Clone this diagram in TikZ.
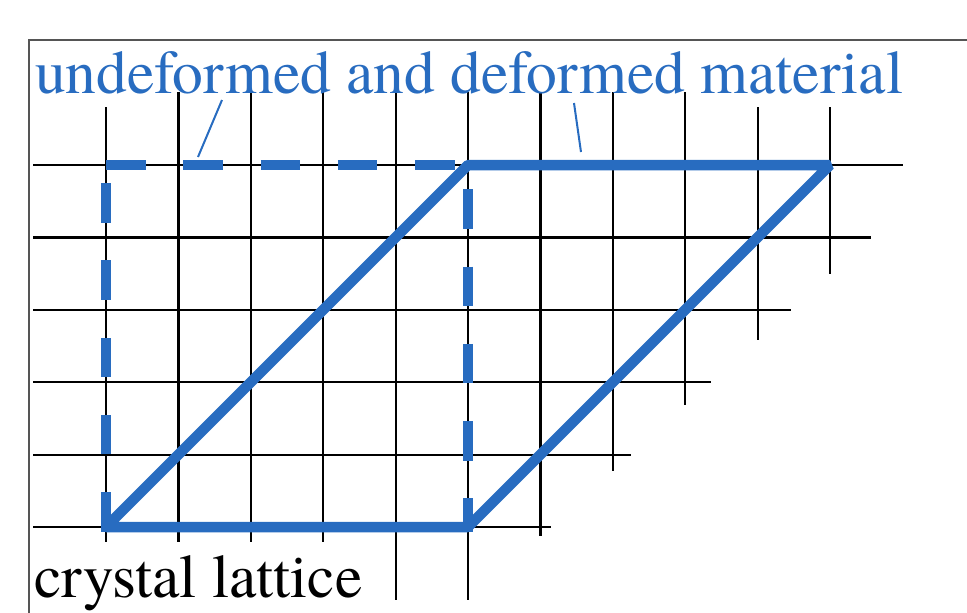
\documentclass[tikz,border=0pt]{standalone}
\usepackage{fontspec}
\setmainfont{texgyretermes-regular.otf}
\definecolor{mblue}{RGB}{40,108,192}
\definecolor{framegray}{RGB}{85,85,85}
\begin{document}
\begin{tikzpicture}[x=1pt,y=-1pt,
  gridline/.style={black, line width=2.2pt},
  framel/.style={framegray, line width=1.3pt},
  dashsq/.style={mblue, line width=10.5pt, dash pattern=on 39.5pt off 37.75pt},
  solidpg/.style={mblue, line width=10.5pt, line join=bevel},
  pointer/.style={mblue, line width=2pt},
  lbl/.style={inner sep=0pt, anchor=base west, font=\fontsize{61.5}{61.5}\selectfont}]
\useasboundingbox (0,0) rectangle (967,613);
% lattice
\foreach \y/\xe in {165/903, 237.4/871, 309.8/791, 382.2/711, 454.6/631, 527/551}
  \draw[gridline] (33,\y) -- (\xe,\y);
\foreach \x/\ys/\ye in {106/107/542, 178.4/92/542, 250.8/92/542, 323.2/92/542, 395.6/92/600, 468/92/600, 540.4/92/536, 612.8/92/471, 685.2/92/405, 757.6/107/340, 830/107/274}
  \draw[gridline] (\x,\ys) -- (\x,\ye);
% frame
\draw[framel] (29,613) -- (29,40) -- (967,40);
% undeformed (dashed) and deformed (solid) material
\coordinate (sqA) at (106,165);
\coordinate (sqB) at (468,165);
\coordinate (sqC) at (468,527);
\coordinate (sqD) at (106,527);
\coordinate (pgB) at (830,165);
\draw[dashsq] (sqA) -- (sqB) -- (sqC) -- (sqD) -- cycle;
\draw[solidpg] (sqD) -- (sqB) -- (pgB) -- (sqC) -- cycle;
% labels
\node[lbl, text=mblue] (title) at (35,93) {undeformed and deformed material};
\node[lbl] (caption) at (34,597) {crystal lattice};
% pointers
\coordinate (p1s) at (222,100);
\coordinate (p1e) at (198,157);
\coordinate (p2s) at (574,103);
\coordinate (p2e) at (581,152);
\draw[pointer] (p1s) -- (p1e);
\draw[pointer] (p2s) -- (p2e);
\end{tikzpicture}
\end{document}
